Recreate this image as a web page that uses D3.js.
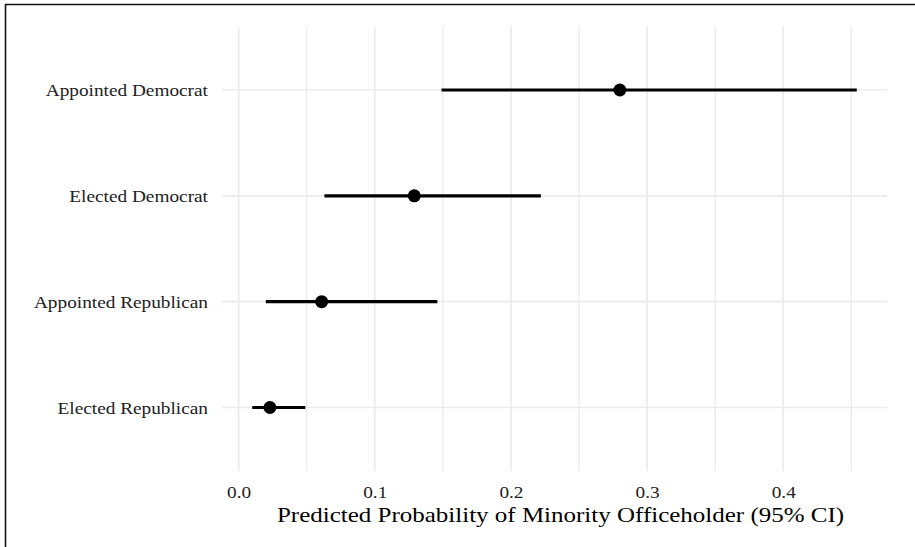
<!DOCTYPE html>
<html>
<head>
<meta charset="utf-8">
<script src="https://cdn.jsdelivr.net/npm/d3@7"></script>
<style>
  body { margin: 0; background: #fff; }
  svg { display: block; }
  text { font-family: "Liberation Serif", "Times New Roman", serif; }
</style>
</head>
<body>
<div id="chart"></div>
<script>
const width = 915, height = 547;

// data
const groups = ["Appointed Democrat", "Elected Democrat", "Appointed Republican", "Elected Republican"];
const estimates = [0.280, 0.129, 0.061, 0.023];
const lower = [0.149, 0.063, 0.020, 0.010];
const upper = [0.454, 0.222, 0.146, 0.049];
const xTicks = [0, 0.1, 0.2, 0.3, 0.4];
const xMinor = [0.05, 0.15, 0.25, 0.35, 0.45];
const xTitle = "Predicted Probability of Minority Officeholder (95% CI)";

const rows = groups.map((g, i) => ({group: g, est: estimates[i], lo: lower[i], hi: upper[i]}));

const margin = {top: 26.5, right: 28, bottom: 76, left: 222};
// the source image is a bit stretched sideways, so text gets widened too
const stretch = 1.17;

const svg = d3.select("#chart")
  .append("svg")
    .attr("width", width)
    .attr("height", height);

// partial frame (top + left edges)
svg.append("line")
  .attr("x1", 5).attr("x2", width).attr("y1", 4.5).attr("y2", 4.5)
  .attr("stroke", "#111").attr("stroke-width", 1.6);
svg.append("line")
  .attr("x1", 5.5).attr("x2", 5.5).attr("y1", 4).attr("y2", height)
  .attr("stroke", "#111").attr("stroke-width", 1.6);

// scales, ggplot-like 5% expansion on x
const xMin = d3.min(lower), xMax = d3.max(upper);
const pad = (xMax - xMin) * 0.05;
const x = d3.scaleLinear()
  .domain([xMin - pad, xMax + pad])
  .range([margin.left, width - margin.right]);

const y = d3.scalePoint()
  .domain(groups)
  .range([margin.top, height - margin.bottom])
  .padding(0.6);

const g = svg.append("g");

// grid
g.selectAll("line.minor")
  .data(xMinor)
  .join("line")
    .attr("class", "minor")
    .attr("x1", d => x(d)).attr("x2", d => x(d))
    .attr("y1", margin.top).attr("y2", height - margin.bottom)
    .attr("stroke", "#ececec").attr("stroke-width", 1.3);

g.selectAll("line.major")
  .data(xTicks)
  .join("line")
    .attr("class", "major")
    .attr("x1", d => x(d)).attr("x2", d => x(d))
    .attr("y1", margin.top).attr("y2", height - margin.bottom)
    .attr("stroke", "#ebebeb").attr("stroke-width", 1.7);

g.selectAll("line.hgrid")
  .data(groups)
  .join("line")
    .attr("class", "hgrid")
    .attr("x1", margin.left).attr("x2", width - margin.right)
    .attr("y1", d => y(d)).attr("y2", d => y(d))
    .attr("stroke", "#ebebeb").attr("stroke-width", 1.7);

// axes (labels only, no domain/ticks)
const xAxis = g.append("g")
  .attr("transform", `translate(0, ${height - margin.bottom})`)
  .call(d3.axisBottom(x).tickValues(xTicks).tickFormat(d3.format(".1f")).tickSize(0).tickPadding(15));
xAxis.select(".domain").remove();
xAxis.selectAll("text")
  .attr("fill", "#222")
  .attr("transform", `scale(${stretch},1)`)
  .style("font-family", "'Liberation Serif', serif")
  .style("font-size", "16.5px");

const yAxis = g.append("g")
  .attr("transform", `translate(${margin.left}, 0)`)
  .call(d3.axisLeft(y).tickSize(0).tickPadding(12));
yAxis.select(".domain").remove();
yAxis.selectAll("text")
  .attr("fill", "#222")
  .attr("dy", "0.35em")
  .attr("transform", `scale(${stretch},1)`)
  .style("font-family", "'Liberation Serif', serif")
  .style("font-size", "16.5px");

// x title
svg.append("g")
  .attr("transform", `translate(${(margin.left + width - margin.right) / 2 + 6}, 522) scale(${stretch + 0.02},1)`)
  .append("text")
    .attr("text-anchor", "middle")
    .attr("fill", "#000")
    .style("font-size", "21px")
    .text(xTitle);

// CI lines
g.selectAll("line.ci")
  .data(rows)
  .join("line")
    .attr("class", "ci")
    .attr("x1", d => x(d.lo)).attr("x2", d => x(d.hi))
    .attr("y1", d => y(d.group)).attr("y2", d => y(d.group))
    .attr("stroke", "#000").attr("stroke-width", 3.2);

// point estimates
g.selectAll("circle.est")
  .data(rows)
  .join("circle")
    .attr("class", "est")
    .attr("cx", d => x(d.est))
    .attr("cy", d => y(d.group))
    .attr("r", 6.5)
    .attr("fill", "#000");
</script>
</body>
</html>
